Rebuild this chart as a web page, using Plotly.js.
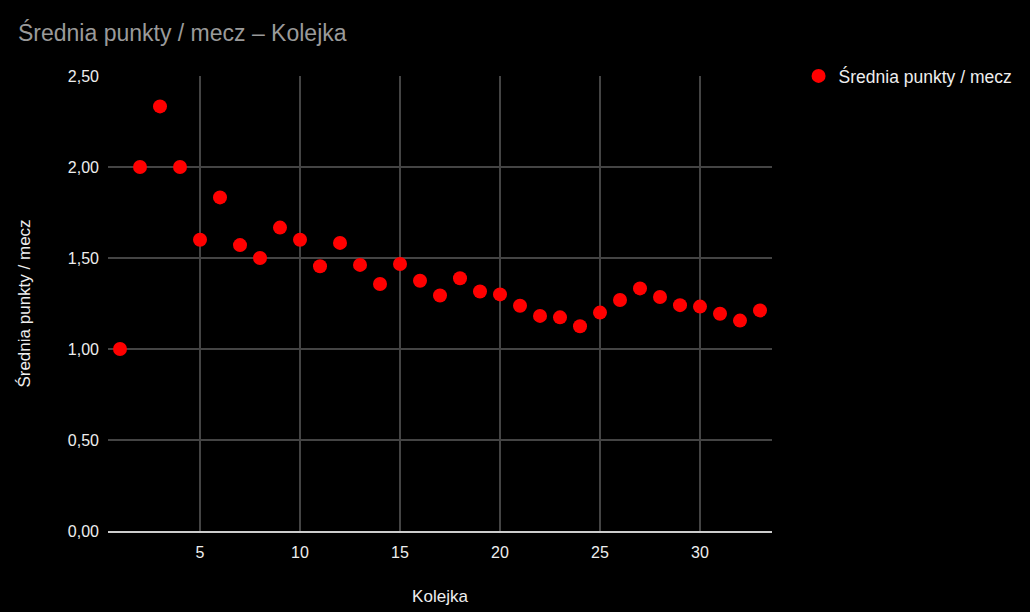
<!DOCTYPE html>
<html>
<head>
<meta charset="utf-8">
<script src="https://cdn.plot.ly/plotly-3.0.1.min.js"></script>
<style>html,body{margin:0;padding:0;background:#000;}#chart{width:1030px;height:612px;}</style>
</head>
<body>
<div id="chart"></div>
<script>
const rounds = [1,2,3,4,5,6,7,8,9,10,11,12,13,14,15,16,17,18,19,20,21,22,23,24,25,26,27,28,29,30,31,32,33];
const avgPoints = [1.00,2.00,2.333,2.00,1.60,1.833,1.571,1.50,1.667,1.60,1.455,1.583,1.462,1.357,1.467,1.375,1.294,1.389,1.316,1.30,1.238,1.182,1.174,1.125,1.20,1.269,1.333,1.286,1.241,1.233,1.194,1.156,1.212];
const seriesName = 'Średnia punkty / mecz';
const chartTitle = 'Średnia punkty / mecz – Kolejka';
const xTitle = 'Kolejka';
const yTitle = 'Średnia punkty / mecz';
const xTicks = [5,10,15,20,25,30];
const yTicks = [0,0.5,1,1.5,2,2.5];

const font = 'Arial, "Liberation Sans", sans-serif';
Plotly.newPlot('chart', [{
  x: rounds, y: avgPoints, name: seriesName, type: 'scatter', mode: 'markers',
  marker: {color: '#ff0000', size: 14},
  showlegend: true
}], {
  width: 1030, height: 612,
  paper_bgcolor: '#000', plot_bgcolor: '#000',
  font: {family: font, color: '#eeeeee', size: 16},
  separators: ', ',
  margin: {l: 108, r: 258, t: 76, b: 81, pad: 0},
  title: {text: chartTitle, x: 18/1030, xanchor: 'left', y: 1 - 33/612, yanchor: 'middle',
          font: {family: font, size: 23, color: '#9a9a9a'}},
  xaxis: {range: [0.4, 33.6], tickvals: xTicks, ticktext: xTicks.map(String),
          showgrid: true, gridcolor: '#444444', gridwidth: 2, zeroline: false,
          showline: true, linecolor: '#cccccc', linewidth: 2,
          ticks: '', ticklabelstandoff: 6,
          title: {text: xTitle, font: {size: 17, color: '#eeeeee'}, standoff: 30}},
  yaxis: {range: [0, 2.5], tickvals: yTicks, tickformat: '.2f',
          showgrid: true, gridcolor: '#444444', gridwidth: 2, zeroline: false,
          showline: false, ticks: '', ticklabelstandoff: 8,
          title: {text: yTitle, font: {size: 17, color: '#eeeeee'}, standoff: 32}},
  legend: {x: 1.04, xanchor: 'left', y: 1.0, yanchor: 'middle', bgcolor: 'rgba(0,0,0,0)',
           font: {size: 17.5, color: '#eeeeee'}},
  hovermode: false
}, {displayModeBar: false, staticPlot: true});
</script>
</body>
</html>
